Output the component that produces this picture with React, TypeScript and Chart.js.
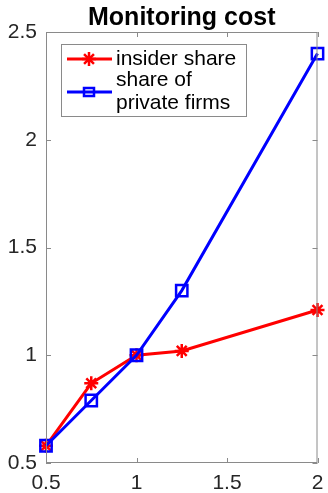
import React, { useEffect, useRef } from 'react';
import { Chart, registerables } from 'chart.js';

Chart.register(...registerables);

const titleText = 'Monitoring cost';
const xValues = [0.5, 0.75, 1, 1.25, 2];
const insiderShare = [0.58, 0.87, 1.0, 1.02, 1.21];
const privateFirmsShare = [0.58, 0.79, 1.0, 1.3, 2.4];
const xTicks = [0.5, 1, 1.5, 2];
const yTicks = [0.5, 1, 1.5, 2, 2.5];
const seriesLabels = [['insider share'], ['share of', 'private firms']];
const seriesColors = ['#ff0000', '#0000ff'];

const FONT = '"Liberation Sans", Arial, Helvetica, sans-serif';
const AXIS_COLOR = '#8a8a8a';
const TEXT_COLOR = '#262626';

const matlabPlugin = {
  id: 'matlabDecor',
  afterDraw(chart: any) {
    const { ctx, chartArea, scales } = chart;
    const { left, right, top, bottom } = chartArea;
    ctx.save();
    ctx.strokeStyle = AXIS_COLOR;
    ctx.lineWidth = 1;
    ctx.strokeRect(left + 0.5, top + 0.5, right - left - 1, bottom - top - 1);
    const tl = 5;
    ctx.beginPath();
    xTicks.forEach((v) => {
      const px = Math.round(scales.x.getPixelForValue(v)) + 0.5;
      ctx.moveTo(px, bottom);
      ctx.lineTo(px, bottom - tl);
      ctx.moveTo(px, top);
      ctx.lineTo(px, top + tl);
    });
    yTicks.forEach((v) => {
      const py = Math.round(scales.y.getPixelForValue(v)) + 0.5;
      ctx.moveTo(left, py);
      ctx.lineTo(left + tl, py);
      ctx.moveTo(right, py);
      ctx.lineTo(right - tl, py);
    });
    ctx.stroke();

    ctx.fillStyle = '#000';
    ctx.font = `bold 25px ${FONT}`;
    ctx.textAlign = 'center';
    ctx.textBaseline = 'alphabetic';
    ctx.fillText(titleText, (left + right) / 2, 25);

    const lx = left + 15;
    const ly = top + 12;
    const lw = 186;
    const lh = 73;
    ctx.fillStyle = '#ffffff';
    ctx.fillRect(lx, ly, lw, lh);
    ctx.strokeStyle = AXIS_COLOR;
    ctx.lineWidth = 1;
    ctx.strokeRect(lx + 0.5, ly + 0.5, lw - 1, lh - 1);

    const rowsY = [ly + 15, ly + 48];
    ctx.font = `21px ${FONT}`;
    ctx.textAlign = 'left';
    ctx.textBaseline = 'middle';
    seriesLabels.forEach((lines, i) => {
      const cy = rowsY[i];
      const color = seriesColors[i];
      ctx.strokeStyle = color;
      ctx.lineWidth = 3;
      ctx.beginPath();
      ctx.moveTo(lx + 6, cy);
      ctx.lineTo(lx + 51, cy);
      ctx.stroke();
      const mx = lx + 28;
      ctx.beginPath();
      if (i === 0) {
        ctx.lineWidth = 2.5;
        const r = 7;
        ctx.moveTo(mx - r, cy);
        ctx.lineTo(mx + r, cy);
        ctx.moveTo(mx, cy - r);
        ctx.lineTo(mx, cy + r);
        const d = r * Math.SQRT1_2;
        ctx.moveTo(mx - d, cy - d);
        ctx.lineTo(mx + d, cy + d);
        ctx.moveTo(mx - d, cy + d);
        ctx.lineTo(mx + d, cy - d);
      } else {
        ctx.lineWidth = 2.5;
        ctx.rect(mx - 5, cy - 4, 10, 8);
      }
      ctx.stroke();
      ctx.fillStyle = '#000';
      if (lines.length === 1) {
        ctx.fillText(lines[0], lx + 55, cy);
      } else {
        ctx.fillText(lines[0], lx + 55, cy - 12);
        ctx.fillText(lines[1], lx + 55, cy + 11);
      }
    });
    ctx.restore();
  },
};

export default function App() {
  const ref = useRef<HTMLCanvasElement | null>(null);

  useEffect(() => {
    if (!ref.current) return;
    const chart = new Chart(ref.current, {
      type: 'line',
      data: {
        datasets: [
          {
            label: seriesLabels[0].join(' '),
            data: xValues.map((x, i) => ({ x, y: insiderShare[i] })),
            borderColor: seriesColors[0],
            backgroundColor: seriesColors[0],
            borderWidth: 3,
            pointStyle: 'star',
            pointRadius: 7,
            pointBorderWidth: 2.5,
            pointBorderColor: seriesColors[0],
            clip: false as any,
            order: 2,
          },
          {
            label: seriesLabels[1].join(' '),
            data: xValues.map((x, i) => ({ x, y: privateFirmsShare[i] })),
            borderColor: seriesColors[1],
            backgroundColor: 'rgba(0,0,0,0)',
            borderWidth: 3,
            pointStyle: 'rect',
            pointRadius: 8,
            pointBorderWidth: 2.5,
            pointBorderColor: seriesColors[1],
            pointBackgroundColor: 'rgba(0,0,0,0)',
            clip: false as any,
            order: 1,
          },
        ],
      },
      options: {
        responsive: false,
        animation: false,
        layout: { padding: { top: 32, right: 8, left: 0, bottom: 0 } },
        plugins: {
          legend: { display: false },
          title: { display: false },
          tooltip: { enabled: false },
        },
        scales: {
          x: {
            type: 'linear',
            min: 0.5,
            max: 2,
            afterBuildTicks: (s: any) => {
              s.ticks = xTicks.map((v) => ({ value: v }));
            },
            afterFit: (s: any) => {
              s.height = 30;
              s.paddingLeft = 0;
              s.paddingRight = 0;
            },
            grid: { display: false, drawTicks: false },
            border: { display: false },
            ticks: {
              padding: 8,
              color: TEXT_COLOR,
              font: { family: FONT, size: 21 },
              maxRotation: 0,
              autoSkip: false,
              callback: (v: any) => String(v),
            },
          },
          y: {
            type: 'linear',
            min: 0.5,
            max: 2.5,
            afterBuildTicks: (s: any) => {
              s.ticks = yTicks.map((v) => ({ value: v }));
            },
            afterFit: (s: any) => {
              s.width = 46;
              s.paddingTop = 0;
              s.paddingBottom = 0;
            },
            grid: { display: false, drawTicks: false },
            border: { display: false },
            ticks: {
              padding: 9,
              color: TEXT_COLOR,
              font: { family: FONT, size: 21 },
              autoSkip: false,
              callback: (v: any) => String(v),
            },
          },
        },
      },
      plugins: [matlabPlugin],
    });
    return () => chart.destroy();
  }, []);

  return (
    <div style={{ position: 'absolute', left: 0, top: 0, width: 328, height: 493, background: '#fff' }}>
      <canvas ref={ref} width={328} height={493} />
    </div>
  );
}
